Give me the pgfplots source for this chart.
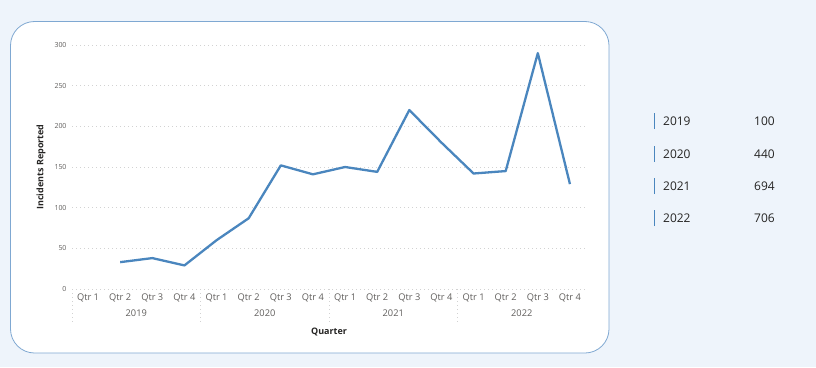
\documentclass[border=0pt]{standalone}
\usepackage{fontspec}
\setmainfont{Open Sans}
\usepackage{pgfplots}
\pgfplotsset{compat=1.18}
\definecolor{bgblue}{HTML}{EEF4FB}
\definecolor{panelborder}{HTML}{7FA8D2}
\definecolor{linecol}{HTML}{4A86BE}
\definecolor{ticktxt}{HTML}{605E5C}
\definecolor{gridc}{HTML}{D2D2D2}
\definecolor{dark}{HTML}{252423}
\begin{document}
\begin{tikzpicture}[x=1bp,y=1bp]
\fill[bgblue] (0,0) rectangle (816,367);
\useasboundingbox (0,0) rectangle (816,367);
\draw[rounded corners=24bp, draw=panelborder, line width=0.8bp, fill=white] (10.5,14) rectangle (609,345.5);
\begin{axis}[
  at={(72bp,78bp)}, anchor=south west,
  scale only axis, width=514bp, height=244bp,
  xmin=-0.5, xmax=15.5, ymin=0, ymax=300,
  axis line style={draw=none},
  tick style={draw=none},
  ytick={0,50,100,150,200,250,300},
  xtick={0,...,15},
  xticklabels={Qtr 1,Qtr 2,Qtr 3,Qtr 4,Qtr 1,Qtr 2,Qtr 3,Qtr 4,Qtr 1,Qtr 2,Qtr 3,Qtr 4,Qtr 1,Qtr 2,Qtr 3,Qtr 4},
  ymajorgrids, grid style={gridc, line width=0.7bp, dash pattern=on 0.8bp off 3.2bp},
  /pgf/number format/assume math mode=true,
  yticklabel style={font=\fontsize{7}{8}\selectfont, text=ticktxt, xshift=-2bp},
  xticklabel style={font=\fontsize{9.3}{10}\selectfont, text=ticktxt, anchor=center, yshift=-9bp},
  ylabel={Incidents Reported},
  ylabel style={font=\fontsize{9}{10}\selectfont\bfseries, text=dark, at={(axis description cs:-0.0603,0.5)}, anchor=center, rotate=0},
  xlabel={Quarter},
  xlabel style={font=\fontsize{9}{10}\selectfont\bfseries, text=dark, at={(axis description cs:0.5,0)}, anchor=center, yshift=-43bp},
  clip=false,
]
\addplot[linecol, line width=2.3bp, line join=round] coordinates {
(1,33) (2,38) (3,29)
(4,60) (5,87) (6,152) (7,141)
(8,150) (9,144) (10,220) (11,180)
(12,142) (13,145) (14,290) (15,129)
};
\foreach \s in {-0.5,3.5,7.5,11.5} {
  \edef\tmp{\noexpand\draw[gridc, line width=0.7bp, dash pattern=on 0.8bp off 3.2bp] (axis cs:\s,0) -- ++(0bp,-34bp);}
  \tmp
}
\foreach \c/\y in {1.5/2019,5.5/2020,9.5/2021,13.5/2022} {
  \edef\tmp{\noexpand\node[font=\noexpand\fontsize{9.3}{10}\noexpand\selectfont, text=ticktxt] at (axis cs:\c,0) [yshift=-24bp] {\y};}
  \tmp
}
\end{axis}
\foreach \yy/\yr/\v in {121/2019/100, 154/2020/440, 186/2021/694, 218/2022/706} {
  \draw[linecol, line width=1.8bp] (654.5,{367-\yy-8}) -- (654.5,{367-\yy+8});
  \node[anchor=west, font=\fontsize{12}{13}\selectfont, text=dark, inner sep=0] at (663,{367-\yy}) {\yr};
  \node[anchor=west, font=\fontsize{12}{13}\selectfont, text=dark, inner sep=0] at (754,{367-\yy}) {\v};
}
\end{tikzpicture}
\end{document}
